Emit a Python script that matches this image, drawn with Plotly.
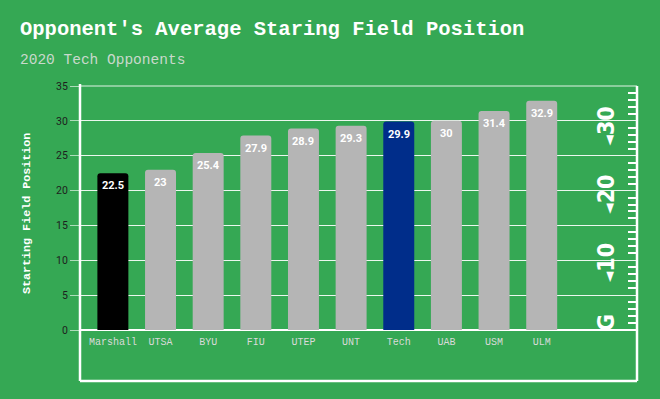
import plotly.graph_objects as go

teams = ["Marshall", "UTSA", "BYU", "FIU", "UTEP", "UNT", "Tech", "UAB", "USM", "ULM"]
avg_start = [22.5, 23, 25.4, 27.9, 28.9, 29.3, 29.9, 30, 31.4, 32.9]
bar_colors = ["#000000", "#b5b5b5", "#b5b5b5", "#b5b5b5", "#b5b5b5", "#b5b5b5",
              "#002d8a", "#b5b5b5", "#b5b5b5", "#b5b5b5"]
y_ticks = [0, 5, 10, 15, 20, 25, 30, 35]
yard_labels = ["G", "10", "20", "30"]
yard_values = [1, 9.6, 19.4, 29.2]

BG = "#35a854"
MONO = "Liberation Mono, Courier New, monospace"

fig = go.Figure()
fig.add_trace(go.Bar(
    x=teams, y=avg_start,
    marker=dict(color=bar_colors, line=dict(width=0)),
    width=0.65,
    hoverinfo="x+y",
))
# invisible trace for right hash-mark axis
fig.add_trace(go.Scatter(x=[teams[0]], y=[0], yaxis="y2", mode="markers",
                         marker=dict(opacity=0), showlegend=False, hoverinfo="skip"))

# value labels inside bar tops
for t, v in zip(teams, avg_start):
    fig.add_annotation(
        x=t, y=v, xref="x", yref="y", text=str(v), showarrow=False,
        xanchor="center", yanchor="top", yshift=-4,
        font=dict(family="Roboto, sans-serif", size=11, color="white", weight="bold"),
    )

hash_vals = [v for v in range(1, 35) if v % 5 != 0]

fig.update_layout(
    width=660, height=399,
    paper_bgcolor=BG, plot_bgcolor=BG,
    margin=dict(l=80, r=23, t=86, b=69),
    showlegend=False,
    barcornerradius=3,
    xaxis=dict(
        range=[-0.69, 11.0], showgrid=False, zeroline=False, showline=False,
        ticks="", ticklabelstandoff=4,
        tickfont=dict(family=MONO, size=10, color="#dadada"),
        fixedrange=True,
    ),
    yaxis=dict(
        range=[0, 35], tickvals=y_ticks, showgrid=True,
        gridcolor="rgba(255,255,255,0.9)", gridwidth=1,
        zeroline=True, zerolinecolor="white", zerolinewidth=1.5,
        ticks="outside", ticklen=9, tickcolor="rgba(255,255,255,0.6)", tickwidth=1,
        tickfont=dict(family="Roboto, sans-serif", size=10.5, color="#1e1e1e"),
        showline=False,
    ),
    yaxis2=dict(
        range=[0, 35], overlaying="y", side="right", anchor="x",
        showgrid=False, zeroline=False, showticklabels=False,
        tickvals=hash_vals, ticks="inside", ticklen=9, tickwidth=2, tickcolor="white",
        showline=False,
    ),
)

yb = (330 - 381) / 244.0
# field border
fig.add_shape(type="line", xref="paper", yref="paper", x0=0, x1=0, y0=yb, y1=1.008,
              line=dict(color="white", width=2.5))
fig.add_shape(type="line", xref="paper", yref="paper", x0=1, x1=1, y0=yb, y1=1.0,
              line=dict(color="white", width=2.5))
fig.add_shape(type="line", xref="paper", yref="paper", x0=0, x1=1, y0=yb, y1=yb,
              line=dict(color="white", width=2.5))
fig.add_shape(type="line", xref="paper", yref="paper", x0=0, x1=1, y0=1, y1=1,
              line=dict(color="rgba(255,255,255,0.85)", width=1))

# yard numbers
for lab, yv in zip(yard_labels, yard_values):
    txt = lab if lab == "G" else "<span style='font-size:15px'>◄</span>" + lab
    fig.add_annotation(
        xref="paper", yref="y", x=(606 - 80) / 557.0, y=yv,
        text=txt, textangle=-90, showarrow=False,
        xanchor="center", yanchor="middle",
        font=dict(family="Liberation Sans Narrow, DejaVu Sans Condensed, Arial Narrow, sans-serif",
                  size=23, color="white", weight="bold"),
    )

# titles
fig.add_annotation(
    xref="paper", yref="paper", x=(18 - 80) / 557.0, y=(330 - 30) / 244.0,
    text="Opponent's Average Staring Field Position", showarrow=False,
    xanchor="left", yanchor="middle",
    font=dict(family=MONO, size=20.5, color="white", weight="bold"),
)
fig.add_annotation(
    xref="paper", yref="paper", x=(18 - 80) / 557.0, y=(330 - 60) / 244.0,
    text="2020 Tech Opponents", showarrow=False,
    xanchor="left", yanchor="middle",
    font=dict(family=MONO, size=14.5, color="#c9d9cc"),
)
fig.add_annotation(
    xref="paper", yref="paper", x=(27 - 80) / 557.0, y=(330 - 214) / 244.0,
    text="Starting Field Position", showarrow=False, textangle=-90,
    xanchor="center", yanchor="middle",
    font=dict(family=MONO, size=11.7, color="white", weight="bold"),
)

fig.write_html(
    "out.html",
    config={"displayModeBar": False},
    post_script="document.body.style.margin='0';document.body.style.padding='0';"
                "document.body.style.overflow='hidden';document.body.style.background='" + BG + "';",
)
